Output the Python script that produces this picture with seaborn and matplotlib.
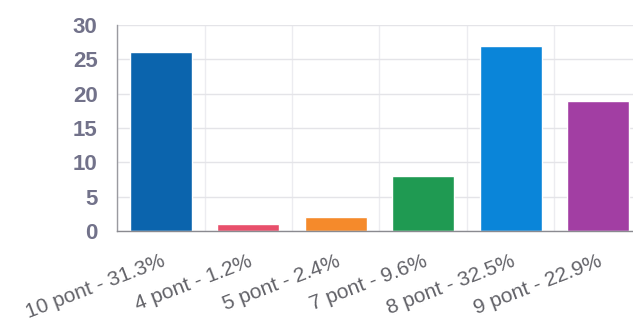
import matplotlib
matplotlib.use("Agg")
import matplotlib.pyplot as plt
import seaborn as sns
import pandas as pd
import numpy as np
from matplotlib.ticker import FixedLocator

categories = ["10 pont - 31.3%", "4 pont - 1.2%", "5 pont - 2.4%",
              "7 pont - 9.6%", "8 pont - 32.5%", "9 pont - 22.9%"]
counts = [26, 1, 2, 8, 27, 19]
colors = ["#0b64ad", "#e84f6b", "#f58a2b", "#1f9a52", "#0a85d9", "#a23ea3"]

df = pd.DataFrame({"cat": categories, "count": counts})

sns.set_theme(style="white")
plt.rcParams["font.family"] = ["Liberation Sans", "DejaVu Sans"]

fig = plt.figure(figsize=(6.33, 3.27), dpi=100)
ax = fig.add_axes([0.185, 0.2936, 0.815, 0.63])

sns.barplot(data=df, x="cat", y="count", hue="cat", palette=colors,
            width=0.71, legend=False, ax=ax, saturation=1)

ax.set_xlim(-0.5, 5.4)
ax.set_ylim(0, 30)
ax.set_yticks([0, 5, 10, 15, 20, 25, 30])
ax.set_xlabel("")
ax.set_ylabel("")

# grid
ax.set_axisbelow(True)
ax.yaxis.grid(True, color="#e4e4e8", linewidth=1)
ax.xaxis.set_minor_locator(FixedLocator(np.arange(-0.5, 6, 1)))
ax.xaxis.grid(True, which="minor", color="#ececf0", linewidth=1)
ax.xaxis.grid(False, which="major")

for s in ["top", "right"]:
    ax.spines[s].set_visible(False)
ax.spines["left"].set_color("#9a9aa0")
ax.spines["left"].set_linewidth(1)
ax.spines["bottom"].set_color("#8a8a90")
ax.spines["bottom"].set_linewidth(1)

ax.tick_params(axis="y", length=12, color="#dcdce0", width=1, pad=2,
               labelsize=16, labelcolor="#72728a")
for lbl in ax.get_yticklabels():
    lbl.set_fontweight("bold")
ax.tick_params(axis="x", which="major", length=0, pad=15,
               labelsize=15, labelcolor="#626268")
ax.tick_params(axis="x", which="minor", length=10, color="#dcdce0", width=1)
ax.set_xticks(range(len(categories)))
ax.set_xticklabels(categories, rotation=21, ha="right", va="top",
                   rotation_mode="anchor")

fig.savefig("out.png", dpi=100)
